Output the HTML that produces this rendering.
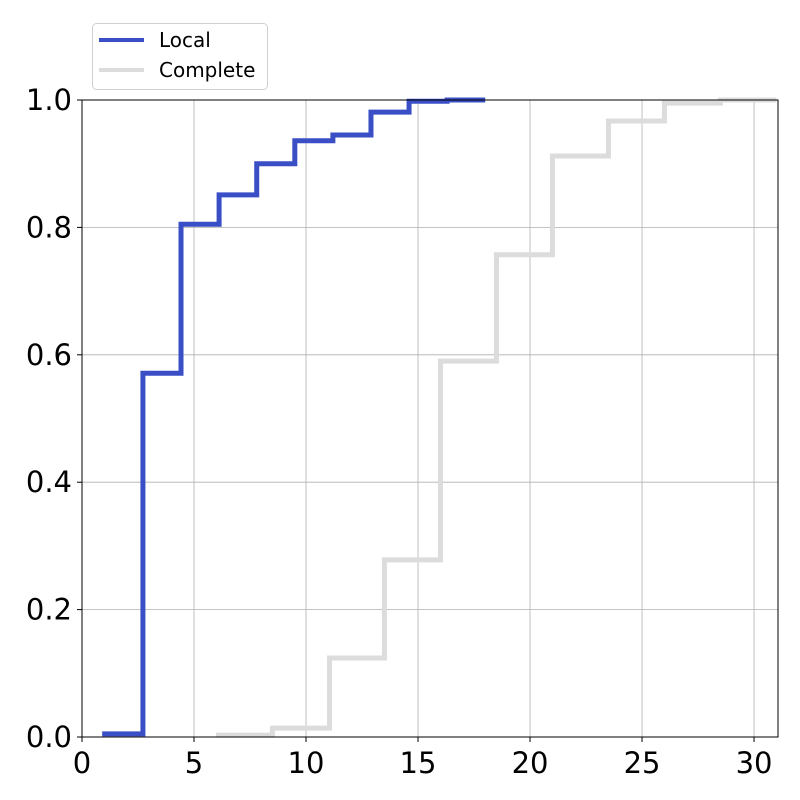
<!DOCTYPE html>
<html><head><meta charset="utf-8"><style>
html,body{margin:0;padding:0;background:#fff;}
svg{display:block;font-family:"DejaVu Sans","Liberation Sans",sans-serif;}
</style></head><body>
<svg id="chart" width="800" height="800">
<g id="grid"></g>
<g id="series"></g>
<rect x="82" y="100" width="696" height="637" fill="none" stroke="#000" stroke-width="1"/>
<g id="ticks"></g>
<g>
<rect x="92.5" y="23.5" width="175" height="66" rx="4" fill="#fff" stroke="#d0d0d0" stroke-width="1"/>
<line x1="99" y1="40" x2="144" y2="40" stroke="#3a4fc6" stroke-width="4"/>
<text x="159" y="47" font-size="20">Local</text>
<line x1="99" y1="70" x2="144" y2="70" stroke="#dcdcdc" stroke-width="4"/>
<text x="159" y="77" font-size="20">Complete</text>
</g>
</svg>
<script>
const xTicks = [0,5,10,15,20,25,30];
const yTicks = [0.0,0.2,0.4,0.6,0.8,1.0];
const yTickLabels = ["0.0","0.2","0.4","0.6","0.8","1.0"];
const localEdges = [0.9,2.72,4.42,6.12,7.8,9.5,11.2,12.9,14.6,16.3,18.0];
const localValues = [0.005,0.571,0.805,0.851,0.9,0.936,0.945,0.981,0.998,1.0];
const completeEdges = [5.98,8.5,11.05,13.5,16.0,18.5,21.0,23.5,26.0,28.5,31.0];
const completeValues = [0.003,0.014,0.124,0.278,0.59,0.757,0.912,0.967,0.995,1.0];

const X0=82, X1=778, Y0=737, Y1=100, XMIN=0, XMAX=31.07;
const sx = v => X0 + (v-XMIN)/(XMAX-XMIN)*(X1-X0);
const sy = v => Y0 - v*(Y0-Y1);
const NS="http://www.w3.org/2000/svg";
const grid=document.getElementById('grid'), ticks=document.getElementById('ticks'), series=document.getElementById('series');
function mk(tag, attrs, parent){const e=document.createElementNS(NS,tag);for(const k in attrs)e.setAttribute(k,attrs[k]);parent.appendChild(e);return e;}
xTicks.forEach(t=>{
  const x=sx(t);
  const g=mk('line',{x1:x,x2:x,y1:Y1,y2:Y0,stroke:'#b0b0b0','stroke-width':0.8},grid);
  
  
  const tk=mk('line',{x1:x,x2:x,y1:Y0,y2:Y0+5,stroke:'#000'},ticks);
  
  
  const tx=mk('text',{x:x,y:773,'font-size':29,'text-anchor':'middle'},ticks);
  tx.textContent=t;
  
  
});
yTicks.forEach((t,i)=>{
  const y=sy(t);
  const g=mk('line',{x1:X0,x2:X1,y1:y,y2:y,stroke:'#b0b0b0','stroke-width':0.8},grid);
  
  
  const tk=mk('line',{x1:X0-5,x2:X0,y1:y,y2:y,stroke:'#000'},ticks);
  
  
  const tx=mk('text',{x:72,y:y+10,'font-size':29,'text-anchor':'end'},ticks);
  tx.textContent=yTickLabels[i];
  
  
});
function stepPath(edges, vals){
  let d='M'+sx(edges[0])+','+sy(vals[0]);
  for(let i=0;i<vals.length;i++){
    d+=' L'+sx(edges[i+1])+','+sy(vals[i]);
    if(i+1<vals.length) d+=' L'+sx(edges[i+1])+','+sy(vals[i+1]);
  }
  return d;
}
const pc=mk('path',{d:stepPath(completeEdges,completeValues),fill:'none',stroke:'#dcdcdc','stroke-width':5},series);


const pl=mk('path',{d:stepPath(localEdges,localValues),fill:'none',stroke:'#3a4fc6','stroke-width':5},series);


</script>
</body></html>
